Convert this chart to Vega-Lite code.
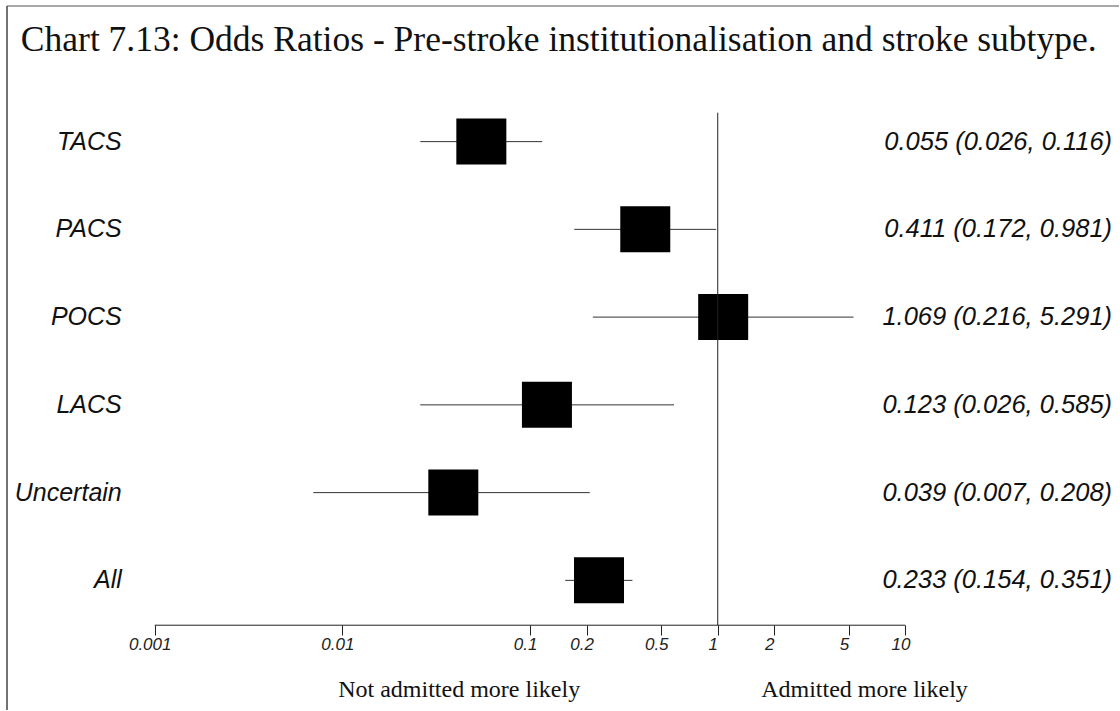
{
  "$schema": "https://vega.github.io/schema/vega-lite/v6.json",
  "width": 1120,
  "height": 711,
  "autosize": {"type": "fit", "contains": "padding"},
  "padding": {"left": 6, "top": 5, "right": 0, "bottom": 0},
  "background": "white",
  "config": {"view": {"stroke": null}},
  "data": {
    "values": [
      {"label": "TACS", "row": 1, "or": 0.055, "lo": 0.026, "hi": 0.116, "ci": "0.055 (0.026, 0.116)"},
      {"label": "PACS", "row": 2, "or": 0.411, "lo": 0.172, "hi": 0.981, "ci": "0.411 (0.172, 0.981)"},
      {"label": "POCS", "row": 3, "or": 1.069, "lo": 0.216, "hi": 5.291, "ci": "1.069 (0.216, 5.291)"},
      {"label": "LACS", "row": 4, "or": 0.123, "lo": 0.026, "hi": 0.585, "ci": "0.123 (0.026, 0.585)"},
      {"label": "Uncertain", "row": 5, "or": 0.039, "lo": 0.007, "hi": 0.208, "ci": "0.039 (0.007, 0.208)"},
      {"label": "All", "row": 6, "or": 0.233, "lo": 0.154, "hi": 0.351, "ci": "0.233 (0.154, 0.351)"}
    ]
  },
  "layer": [
    {
      "mark": {"type": "rule", "color": "#333333", "strokeWidth": 1},
      "encoding": {
        "x": {
          "field": "lo", "type": "quantitative",
          "scale": {"type": "log", "domain": [0.0001633, 137.4], "nice": false, "zero": false},
          "axis": {
            "orient": "bottom", "offset": -85, "title": null, "domain": false, "grid": false,
            "values": [0.001, 0.01, 0.1, 0.2, 0.5, 1, 2, 5, 10], "format": "~g",
            "ticks": true, "tickSize": 10, "tickColor": "#222222", "tickWidth": 1,
            "labelFont": "Liberation Sans", "labelFontStyle": "italic", "labelFontSize": 17,
            "labelColor": "#222222", "labelPadding": 1, "labelOffset": -5,
            "labelFlush": false, "labelOverlap": false
          }
        },
        "x2": {"field": "hi"},
        "y": {
          "field": "row", "type": "quantitative",
          "scale": {"domain": [-0.5455, 7.4773], "reverse": true, "nice": false, "zero": false},
          "axis": null
        }
      }
    },
    {
      "mark": {"type": "point", "shape": "M-1,-0.92H1V0.92H-1Z", "filled": true, "color": "black", "opacity": 1, "size": 2500, "strokeWidth": 0},
      "encoding": {
        "x": {"field": "or", "type": "quantitative"},
        "y": {"field": "row", "type": "quantitative"}
      }
    },
    {
      "mark": {"type": "text", "align": "right", "baseline": "middle", "font": "Liberation Sans", "fontStyle": "italic", "fontSize": 25, "color": "#111111"},
      "encoding": {
        "x": {"datum": 0.0006674, "type": "quantitative"},
        "y": {"field": "row", "type": "quantitative"},
        "text": {"field": "label"}
      }
    },
    {
      "mark": {"type": "text", "align": "right", "baseline": "middle", "font": "Liberation Sans", "fontStyle": "italic", "fontSize": 25.5, "color": "#111111"},
      "encoding": {
        "x": {"datum": 126.2, "type": "quantitative"},
        "y": {"field": "row", "type": "quantitative"},
        "text": {"field": "ci"}
      }
    },
    {
      "data": {"values": [{}]},
      "layer": [
        {
          "mark": {"type": "rule", "color": "#444444", "strokeWidth": 1.5},
          "encoding": {
            "x": {"datum": 0.0001633, "type": "quantitative"},
            "y": {"datum": -0.5455, "type": "quantitative"},
            "y2": {"datum": 7.4773}
          }
        },
        {
          "mark": {"type": "rule", "color": "#555555", "strokeWidth": 1.2},
          "encoding": {
            "x": {"datum": 0.0001633, "type": "quantitative"},
            "x2": {"datum": 137.4},
            "y": {"datum": -0.5455, "type": "quantitative"}
          }
        },
        {
          "mark": {"type": "rule", "color": "#222222", "strokeWidth": 1},
          "encoding": {
            "x": {"datum": 1, "type": "quantitative"},
            "y": {"datum": 0.67, "type": "quantitative"},
            "y2": {"datum": 6.511}
          }
        },
        {
          "mark": {"type": "rule", "color": "#222222", "strokeWidth": 1},
          "encoding": {
            "x": {"datum": 0.001, "type": "quantitative"},
            "x2": {"datum": 10},
            "y": {"datum": 6.511, "type": "quantitative"}
          }
        },
        {
          "mark": {"type": "text", "align": "left", "baseline": "alphabetic", "font": "Liberation Serif", "fontSize": 35.5, "color": "#111111", "text": "Chart 7.13: Odds Ratios - Pre-stroke institutionalisation and stroke subtype."},
          "encoding": {
            "x": {"datum": 0.0001936, "type": "quantitative"},
            "y": {"datum": -0.034, "type": "quantitative"}
          }
        },
        {
          "mark": {"type": "text", "align": "center", "baseline": "alphabetic", "font": "Liberation Serif", "fontSize": 24, "color": "#111111", "text": "Not admitted more likely"},
          "encoding": {
            "x": {"datum": 0.0419, "type": "quantitative"},
            "y": {"datum": 7.33, "type": "quantitative"}
          }
        },
        {
          "mark": {"type": "text", "align": "center", "baseline": "alphabetic", "font": "Liberation Serif", "fontSize": 24, "color": "#111111", "text": "Admitted more likely"},
          "encoding": {
            "x": {"datum": 6.053, "type": "quantitative"},
            "y": {"datum": 7.33, "type": "quantitative"}
          }
        }
      ]
    }
  ]
}
